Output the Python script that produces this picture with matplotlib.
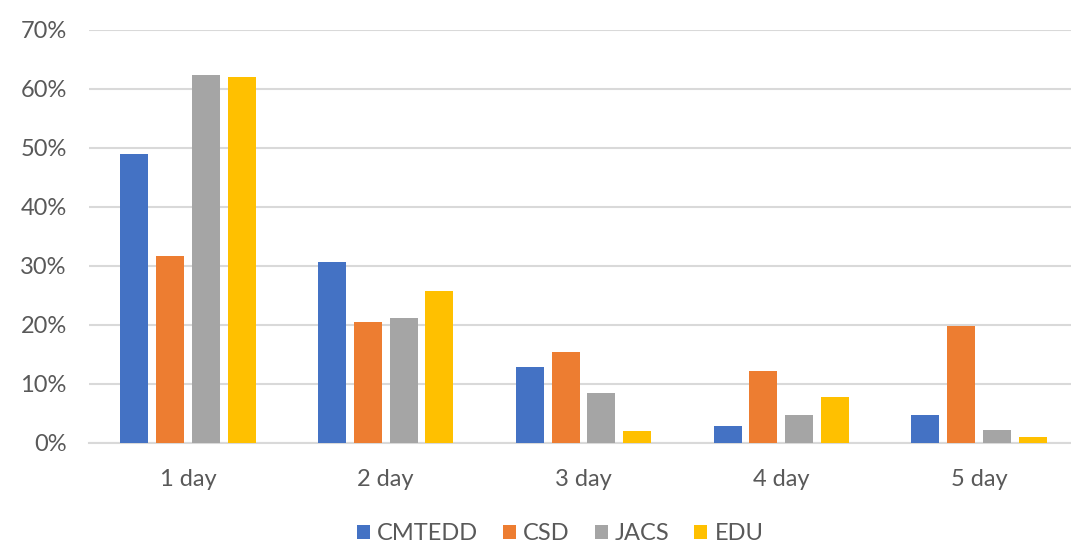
import matplotlib
matplotlib.use("Agg")
import matplotlib.pyplot as plt
import numpy as np
from matplotlib.ticker import FuncFormatter

categories = ["1 day", "2 day", "3 day", "4 day", "5 day"]
series_names = ["CMTEDD", "CSD", "JACS", "EDU"]
cmtedd = [49.0, 30.7, 12.8, 2.9, 4.7]
csd = [31.7, 20.5, 15.3, 12.1, 19.8]
jacs = [62.3, 21.2, 8.5, 4.7, 2.2]
edu = [62.0, 25.8, 1.9, 7.8, 0.9]
colors = ["#4472C4", "#ED7D31", "#A5A5A5", "#FFC000"]
y_ticks = [0, 10, 20, 30, 40, 50, 60, 70]

plt.rcParams['font.family'] = ['Lato', 'DejaVu Sans']

fig = plt.figure(figsize=(10.71, 5.49), dpi=100)
ax = fig.add_axes([89/1071, (549-442.7)/549, (1078-89)/1071, (442.7-30)/549])

x = np.arange(len(categories))
spacing = 0.181
width = 0.142
for i, (vals, name) in enumerate(zip([cmtedd, csd, jacs, edu], series_names)):
    ax.bar(x + (i - 1.5) * spacing, vals, width, color=colors[i], label=name,
           zorder=3, edgecolor='none')

ax.set_xlim(-0.5, 4.5)
ax.set_ylim(0, 70)
ax.set_yticks(y_ticks)
ax.yaxis.set_major_formatter(FuncFormatter(lambda v, p: f"{int(v)}%"))
ax.set_xticks(x)
ax.set_xticklabels(categories)
ax.grid(axis='y', color='#d9d9d9', linewidth=1.5, zorder=0)
for s in ['top', 'right', 'left']:
    ax.spines[s].set_visible(False)
ax.spines['bottom'].set_color('#d9d9d9')
ax.spines['bottom'].set_linewidth(1.5)
ax.tick_params(axis='both', length=0, labelsize=17, labelcolor='#595959')
ax.tick_params(axis='x', pad=19)
ax.tick_params(axis='y', pad=16)

handles, labels = ax.get_legend_handles_labels()
fig.legend(handles, labels, loc='center', bbox_to_anchor=(560/1071, 15/549),
           ncol=4, frameon=False, fontsize=17, handlelength=0.55,
           handleheight=0.55, handletextpad=0.3, columnspacing=1.06,
           borderpad=0, labelcolor='#595959')

fig.savefig("out.png", dpi=100)
